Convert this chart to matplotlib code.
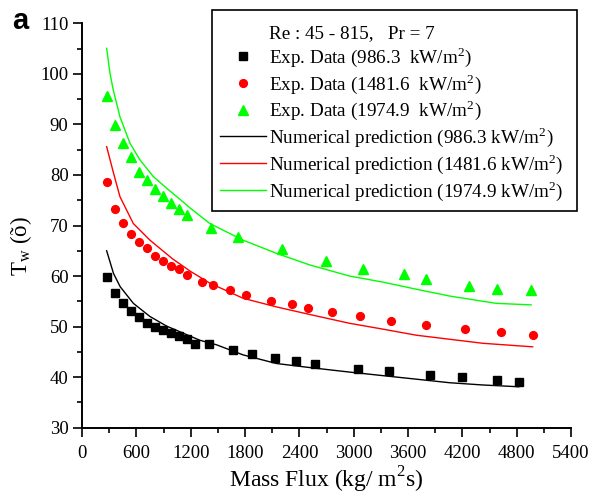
import matplotlib
matplotlib.use("Agg")
import matplotlib.pyplot as plt
from matplotlib.lines import Line2D
from matplotlib.patches import Rectangle
from matplotlib.ticker import MultipleLocator

plt.rcParams['font.family'] = ['Liberation Serif', 'DejaVu Serif']
plt.rcParams['mathtext.fontset'] = 'custom'
plt.rcParams['mathtext.rm'] = 'Liberation Serif'

# ---- data ----
exp1_x = [272, 360, 448, 537, 625, 713, 801, 889, 978, 1066, 1154, 1242, 1404, 1665,
          1882, 2132, 2360, 2569, 3047, 3392, 3845, 4190, 4587, 4822]
exp1_y = [59.75, 56.7, 54.7, 53.1, 51.9, 50.8, 50.0, 49.3, 48.7, 48.2, 47.6, 46.6, 46.5, 45.3,
          44.6, 43.8, 43.1, 42.6, 41.7, 41.2, 40.4, 40.0, 39.4, 39.0]

exp2_x = [272, 360, 448, 537, 625, 713, 801, 889, 978, 1066, 1154, 1330, 1451, 1631,
          1815, 2087, 2323, 2500, 2760, 3065, 3410, 3793, 4226, 4631, 4980]
exp2_y = [78.6, 73.2, 70.4, 68.3, 66.7, 65.5, 64.0, 63.0, 62.0, 61.3, 60.3, 58.9, 58.2, 57.2,
          56.25, 55.1, 54.5, 53.7, 52.9, 52.0, 51.2, 50.3, 49.5, 48.9, 48.3]

exp3_x = [272, 360, 448, 537, 625, 713, 801, 889, 978, 1066, 1154, 1426, 1720, 2205,
          2698, 3099, 3554, 3793, 4278, 4587, 4962]
exp3_y = [95.6, 89.9, 86.3, 83.5, 80.6, 79.0, 77.3, 75.8, 74.4, 73.2, 72.0, 69.6, 67.7, 65.4,
          63.0, 61.4, 60.4, 59.4, 58.0, 57.4, 57.3]

num1_x = [272, 348, 421, 567, 750, 934, 1117, 1301, 1485, 1779, 2146, 2514, 2955, 3322,
          3690, 4057, 4425, 4822]
num1_y = [65.0, 60.5, 57.9, 54.6, 52.0, 50.1, 48.7, 47.3, 46.4, 44.4, 42.7, 41.9, 41.0, 40.3,
          39.6, 38.9, 38.45, 38.1]

num2_x = [272, 349, 419, 566, 750, 1000, 1200, 1411, 1779, 2146, 2514, 2955, 3322, 3690,
          4057, 4425, 4975]
num2_y = [85.6, 80.3, 75.7, 70.4, 67.1, 63.4, 60.9, 58.6, 55.6, 53.9, 52.4, 50.65, 49.5, 48.3,
          47.5, 46.7, 46.0]

num3_x = [272, 309, 345, 419, 529, 639, 786, 933, 1080, 1191, 1411, 1779, 2146, 2514,
          2955, 3322, 3690, 4057, 4572, 4958]
num3_y = [105.05, 100.1, 96.8, 91.5, 86.3, 83.0, 79.7, 77.4, 75.2, 73.5, 70.4, 67.1, 64.5, 62.2,
          60.0, 58.8, 57.4, 56.05, 54.6, 54.3]

labels_exp = ["Exp. Data (986.3  kW/m$^{2}$)", "Exp. Data (1481.6  kW/m$^{2}$)",
              "Exp. Data (1974.9  kW/m$^{2}$)"]
labels_num = ["Numerical prediction (986.3 kW/m$^{2}$)",
              "Numerical prediction (1481.6 kW/m$^{2}$)",
              "Numerical prediction (1974.9 kW/m$^{2}$)"]
legend_title = "Re : 45 - 815,   Pr = 7"

BLACK, RED, GREEN = '#000000', '#ff0000', '#00ff00'

fig = plt.figure(figsize=(5.9, 4.96), dpi=100)
ax = fig.add_axes([0.139, 0.1377, 0.829, 0.8153])

h_e1, = ax.plot(exp1_x, exp1_y, 's', color=BLACK, ms=5.2, ls='none', label=labels_exp[0])
h_e2, = ax.plot(exp2_x, exp2_y, 'o', color=RED, ms=5.6, ls='none', label=labels_exp[1])
h_e3, = ax.plot(exp3_x, exp3_y, '^', color=GREEN, ms=7, ls='none', label=labels_exp[2])
h_n1, = ax.plot(num1_x, num1_y, '-', color=BLACK, lw=1.0, label=labels_num[0])
h_n2, = ax.plot(num2_x, num2_y, '-', color=RED, lw=1.0, label=labels_num[1])
h_n3, = ax.plot(num3_x, num3_y, '-', color=GREEN, lw=1.0, label=labels_num[2])

ax.set_xlim(0, 5400)
ax.set_ylim(30, 110)
ax.xaxis.set_major_locator(MultipleLocator(600))
ax.xaxis.set_minor_locator(MultipleLocator(300))
ax.yaxis.set_major_locator(MultipleLocator(10))
ax.yaxis.set_minor_locator(MultipleLocator(5))

for s in ['top', 'right']:
    ax.spines[s].set_visible(False)
for s in ['left', 'bottom']:
    ax.spines[s].set_linewidth(1.4)

ax.tick_params(which='major', direction='out', length=6.2, width=1.2, labelsize=13.5)
ax.tick_params(which='minor', direction='out', length=3.5, width=1.2)
ax.tick_params(axis='x', which='major', pad=6)
ax.tick_params(axis='y', which='major', pad=3.5)

ax.set_xlabel("Mass Flux (kg/ m$^{2}$s)", fontsize=17, labelpad=2)
ax.set_ylabel("T$_{\\mathregular{w}}$ (õ)", fontsize=16.5)
ax.yaxis.set_label_coords(-0.098, 0.45)

# legend frame drawn separately (box partly outside the axes)
frame = Rectangle((0.3593, 0.5746), 0.6186, 0.4052, transform=fig.transFigure,
                  facecolor='white', edgecolor='black', linewidth=1.2, zorder=4)
fig.patches.append(frame)

blank = Line2D([], [], ls='none', marker=None)
handles = [blank, h_e1, h_e2, h_e3, h_n1, h_n2, h_n3]
labels = [legend_title] + labels_exp + labels_num
leg = fig.legend(handles, labels, loc='upper left', bbox_to_anchor=(0.359, 0.9677),
                 bbox_transform=fig.transFigure, fontsize=13.8, frameon=False,
                 handlelength=2.4, handletextpad=0.15, labelspacing=0.15,
                 borderpad=0.45, borderaxespad=0)
leg.set_zorder(5)

fig.text(0.02, 0.957, 'a', fontsize=21, fontweight='bold', family='Liberation Sans',
         va='center', ha='left')

fig.savefig('out.png', dpi=100)
